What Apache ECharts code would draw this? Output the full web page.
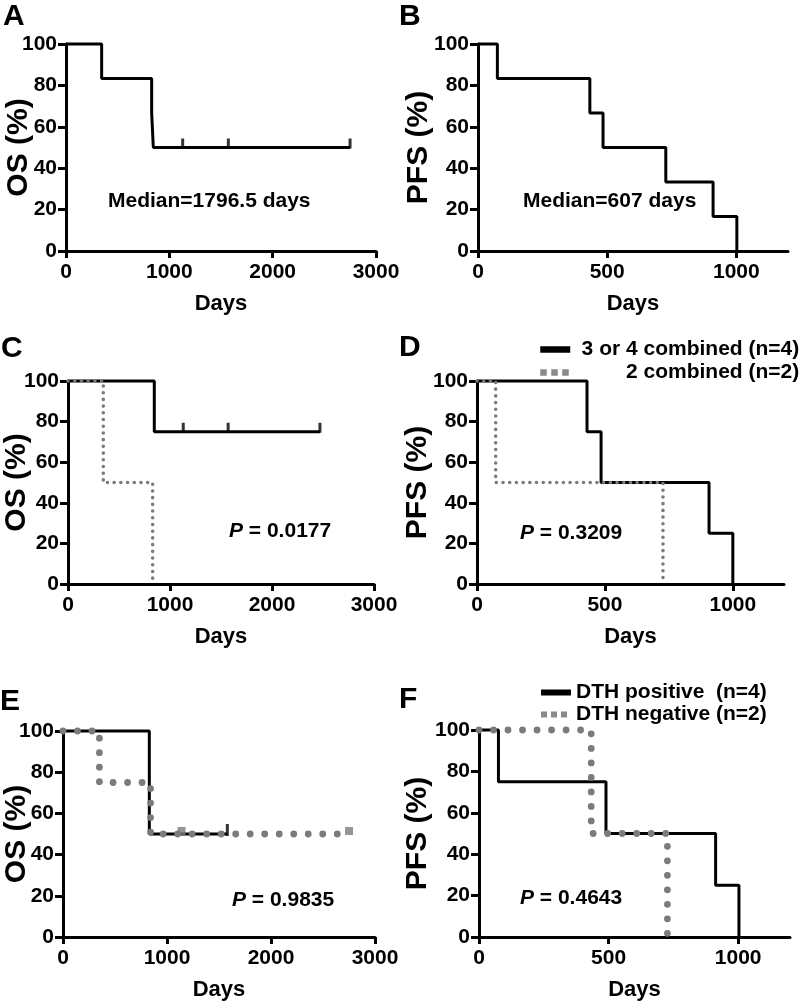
<!DOCTYPE html>
<html><head><meta charset="utf-8">
<script src="https://cdn.jsdelivr.net/npm/echarts@6/dist/echarts.min.js"></script>
<style>html,body{margin:0;padding:0;background:#fff}#c{width:800px;height:1004px}</style>
</head><body><div id="c"></div>
<script>
// ---------- DATA ----------
// Panel A: OS, all patients
const aTimes = [0, 345, 829, 845, 2749];
const aSurv = [100, 83.3, 66.7, 50, 50];
const aCensorTimes = [1129, 1571, 2749];
const aCensorSurv = [50, 50, 50];
// Panel B: PFS, all patients
const bTimes = [0, 75, 433, 484, 727, 910, 1002];
const bSurv = [100, 83.3, 66.7, 50, 33.3, 16.7, 0];
// Panel C: OS by number combined
const cSolidTimes = [0, 846, 2470];
const cSolidSurv = [100, 75, 75];
const cCensorTimes = [1130, 1570, 2470];
const cCensorSurv = [75, 75, 75];
const cDotTimes = [0, 346, 830];
const cDotSurv = [100, 50, 0];
// Panel D: PFS by number combined
const dSolidTimes = [0, 430, 485, 907, 1000];
const dSolidSurv = [100, 75, 50, 25, 0];
const dDotTimes = [0, 73, 727];
const dDotSurv = [100, 50, 0];
// Panel E: OS by DTH
const eSolidTimes = [0, 830, 1580];
const eSolidSurv = [100, 50, 50];
const eSolidCensorTimes = [1580];
const eSolidCensorSurv = [50];
const eDotTimes = [0, 350, 842, 2750];
const eDotSurv = [100, 75, 50, 50];
const eDotCensorTimes = [1140, 2750];
const eDotCensorSurv = [50, 50];
// Panel F: PFS by DTH
const fSolidTimes = [0, 75, 490, 913, 1003];
const fSolidSurv = [100, 75, 50, 25, 0];
const fDotTimes = [0, 433, 727];
const fDotSurv = [100, 50, 0];

// Labels / ticks
const panelLetters = ['A', 'B', 'C', 'D', 'E', 'F'];
const yNames = ['OS (%)', 'PFS (%)', 'OS (%)', 'PFS (%)', 'OS (%)', 'PFS (%)'];
const xName = 'Days';
const osTicks = [0, 1000, 2000, 3000];
const pfsTicks = [0, 500, 1000];
const yTicks = [0, 20, 40, 60, 80, 100];
const dLegendNames = ['3 or 4 combined (n=4)', '2 combined (n=2)'];
const fLegendNames = ['DTH positive  (n=4)', 'DTH negative (n=2)'];
const medianTexts = ['Median=1796.5 days', 'Median=607 days'];
const pValues = ['0.0177', '0.3209', '0.9835', '0.4643'];

// ---------- LAYOUT / STYLE ----------
const FF = '"Liberation Sans", Arial, Helvetica, sans-serif';
const GRAY = '#7b7b7b';
const grids = [
  {left: 66, top: 44, width: 310, height: 207},
  {left: 478, top: 44, width: 310, height: 207},
  {left: 68, top: 381, width: 306, height: 203},
  {left: 477, top: 381, width: 307, height: 203},
  {left: 63, top: 731, width: 312, height: 206},
  {left: 479, top: 730, width: 311, height: 207}
].map(g => Object.assign({outerBoundsMode: 'none', containLabel: false}, g));
const isOS = [true, false, true, false, true, false];
const yNameGaps = [32, 44, 36, 44, 31, 46];

const xAxes = grids.map((g, i) => ({
  type: 'value', gridIndex: i, min: 0, max: isOS[i] ? 3000 : 1200,
  interval: isOS[i] ? 1000 : 500,
  name: xName, nameLocation: 'middle', nameGap: 42, nameMoveOverlap: false,
  nameTextStyle: {fontSize: 22, fontWeight: 'bold', color: '#000', fontFamily: FF},
  axisLine: {show: true, onZero: false, lineStyle: {color: '#000', width: 3}},
  axisTick: {show: true, length: 7, lineStyle: {color: '#000', width: 3},
             customValues: isOS[i] ? osTicks : pfsTicks},
  axisLabel: {fontSize: 21, fontWeight: 'bold', color: '#000', fontFamily: FF, margin: 11,
              customValues: isOS[i] ? osTicks : pfsTicks, formatter: v => String(v)},
  splitLine: {show: false}
}));
const yAxes = grids.map((g, i) => ({
  type: 'value', gridIndex: i, min: 0, max: 100, interval: 20,
  name: yNames[i], nameLocation: 'middle', nameRotate: 90, nameGap: yNameGaps[i], nameMoveOverlap: false,
  nameTextStyle: {fontSize: 30, fontWeight: 'bold', color: '#000', fontFamily: FF},
  axisLine: {show: true, onZero: false, lineStyle: {color: '#000', width: 3}},
  axisTick: {show: true, length: 8, lineStyle: {color: '#000', width: 3}, customValues: yTicks},
  axisLabel: {fontSize: 21, fontWeight: 'bold', color: '#000', fontFamily: FF, margin: 9,
              customValues: yTicks, formatter: v => String(v)},
  splitLine: {show: false}
}));

function zip(t, s) { return t.map((v, k) => [v, s[k]]); }
const solidStyle = {color: '#000', width: 3};
const smallDots = {color: GRAY, width: 3.6, type: [0.01, 6.7], cap: 'round'};
const bigDots = {color: GRAY, width: 6.8, type: [0.01, 14.5], cap: 'round'};
function km(name, idx, t, s, ls) {
  return {type: 'line', name, xAxisIndex: idx, yAxisIndex: idx, step: 'end', symbol: 'none',
          data: zip(t, s), lineStyle: ls, itemStyle: {color: ls.color}, silent: true, animation: false, clip: false};
}
function censor(name, idx, t, s, color, symbol, size, offset) {
  return {type: 'scatter', name, xAxisIndex: idx, yAxisIndex: idx, symbol, symbolSize: size,
          symbolOffset: offset, data: zip(t, s), itemStyle: {color}, silent: true, animation: false, z: 3};
}

const series = [
  km('A all', 0, aTimes, aSurv, solidStyle),
  censor('A censored', 0, aCensorTimes, aCensorSurv, '#000', 'rect', [3, 10], [0, -4]),
  km('B all', 1, bTimes, bSurv, solidStyle),
  km('C 3 or 4 combined', 2, cSolidTimes, cSolidSurv, solidStyle),
  censor('C censored', 2, cCensorTimes, cCensorSurv, '#000', 'rect', [3, 10], [0, -4]),
  km('C 2 combined', 2, cDotTimes, cDotSurv, smallDots),
  km(dLegendNames[0], 3, dSolidTimes, dSolidSurv, solidStyle),
  km(dLegendNames[1], 3, dDotTimes, dDotSurv, smallDots),
  km('E DTH positive', 4, eSolidTimes, eSolidSurv, solidStyle),
  censor('E positive censored', 4, eSolidCensorTimes, eSolidCensorSurv, '#000', 'rect', [3, 12], [0, -4]),
  km('E DTH negative', 4, eDotTimes, eDotSurv, bigDots),
  censor('E negative censored', 4, eDotCensorTimes, eDotCensorSurv, GRAY, 'rect', [8, 8], [0, -3]),
  km(fLegendNames[0], 5, fSolidTimes, fSolidSurv, solidStyle),
  km(fLegendNames[1], 5, fDotTimes, fDotSurv, bigDots)
];

const legTxt = {fontSize: 21, fontWeight: 'bold', color: '#000', fontFamily: FF, lineHeight: 21};
const hideSym = {color: 'rgba(0,0,0,0)', borderWidth: 0, opacity: 0};
const legend = [
  {
    orient: 'vertical', left: 537, top: 339, itemWidth: 30, itemHeight: 8, itemGap: 2,
    selectedMode: false, padding: 0,
    data: [
      {name: dLegendNames[0], lineStyle: {color: '#000', width: 6.5, type: 'solid'}, itemStyle: hideSym},
      {name: dLegendNames[1], lineStyle: {color: '#8a8a8a', width: 6.5, type: [6.5, 4.5], cap: 'butt'}, itemStyle: hideSym}
    ],
    formatter: n => '{r|' + n + '}',
    textStyle: Object.assign({}, legTxt, {rich: {r: Object.assign({}, legTxt, {width: 224, align: 'right'})}})
  },
  {
    orient: 'vertical', left: 538, top: 682, itemWidth: 30, itemHeight: 8, itemGap: 1,
    selectedMode: false, padding: 0,
    data: [
      {name: fLegendNames[0], lineStyle: {color: '#000', width: 6, type: 'solid'}, itemStyle: hideSym},
      {name: fLegendNames[1], lineStyle: {color: '#8a8a8a', width: 6, type: [6, 4], cap: 'butt'}, itemStyle: hideSym}
    ],
    textStyle: legTxt
  }
];

const letterPos = [[3, 2], [399, 2], [1, 334], [399, 333], [0, 687], [399, 685]];
const title = panelLetters.map((l, i) => ({
  text: l, left: letterPos[i][0], top: letterPos[i][1], padding: 0,
  textStyle: {fontSize: 30, fontWeight: 'bold', color: '#000', fontFamily: FF}
}));

const annTxt = {fontSize: 21, fontWeight: 'bold', fill: '#000', fontFamily: FF, textVerticalAlign: 'middle'};
const medianPos = [[108, 201], [523, 201]];
const pPos = [[229, 531], [520, 533], [232, 900], [520, 898]];
const graphic = [];
medianTexts.forEach((t, i) => graphic.push({type: 'text', x: medianPos[i][0], y: medianPos[i][1], silent: true,
  style: Object.assign({text: t}, annTxt)}));
pValues.forEach((p, i) => graphic.push({type: 'text', x: pPos[i][0], y: pPos[i][1], silent: true,
  style: Object.assign({text: '{i|P} = ' + p,
    rich: {i: {fontStyle: 'italic', fontWeight: 'bold', fontSize: 21, fontFamily: FF, fill: '#000'}}}, annTxt)}));

const chart = echarts.init(document.getElementById('c'), null, {renderer: 'canvas'});
chart.setOption({
  backgroundColor: '#fff', animation: false,
  title, legend, graphic,
  grid: grids, xAxis: xAxes, yAxis: yAxes, series
});
</script></body></html>
